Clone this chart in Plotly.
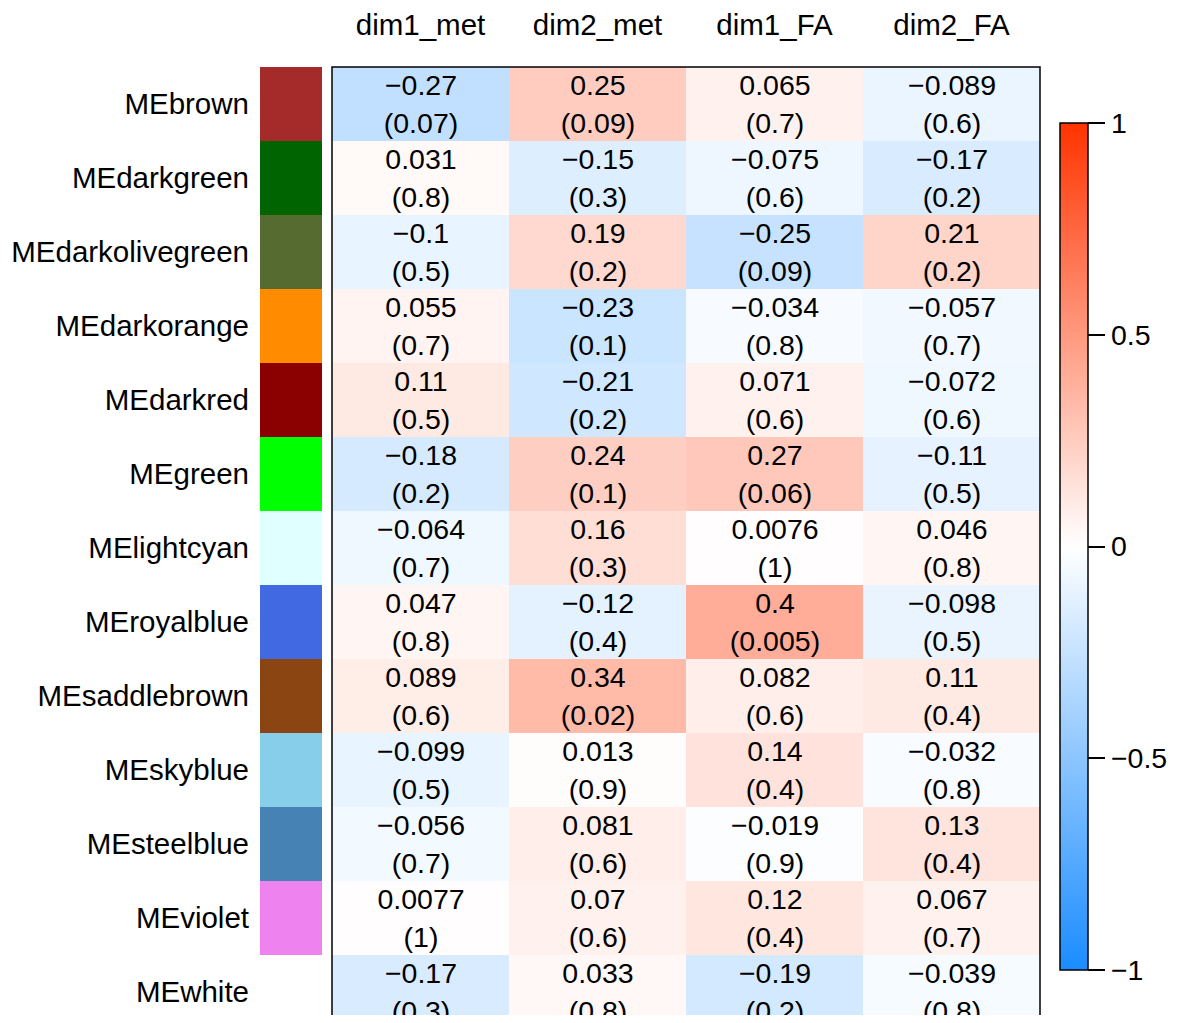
import plotly.graph_objects as go

modules = ["MEbrown", "MEdarkgreen", "MEdarkolivegreen", "MEdarkorange", "MEdarkred",
           "MEgreen", "MElightcyan", "MEroyalblue", "MEsaddlebrown", "MEskyblue",
           "MEsteelblue", "MEviolet", "MEwhite"]
module_colors = ["#A52A2A", "#006400", "#556B2F", "#FF8C00", "#8B0000", "#00FF00", "#E0FFFF",
                 "#4169E1", "#8B4513", "#87CEEB", "#4682B4", "#EE82EE", "#FFFFFF"]
traits = ["dim1_met", "dim2_met", "dim1_FA", "dim2_FA"]

cor_dim1_met = [-0.27, 0.031, -0.1, 0.055, 0.11, -0.18, -0.064, 0.047, 0.089, -0.099, -0.056, 0.0077, -0.17]
p_dim1_met = [0.07, 0.8, 0.5, 0.7, 0.5, 0.2, 0.7, 0.8, 0.6, 0.5, 0.7, 1, 0.3]
cor_dim2_met = [0.25, -0.15, 0.19, -0.23, -0.21, 0.24, 0.16, -0.12, 0.34, 0.013, 0.081, 0.07, 0.033]
p_dim2_met = [0.09, 0.3, 0.2, 0.1, 0.2, 0.1, 0.3, 0.4, 0.02, 0.9, 0.6, 0.6, 0.8]
cor_dim1_FA = [0.065, -0.075, -0.25, -0.034, 0.071, 0.27, 0.0076, 0.4, 0.082, 0.14, -0.019, 0.12, -0.19]
p_dim1_FA = [0.7, 0.6, 0.09, 0.8, 0.6, 0.06, 1, 0.005, 0.6, 0.4, 0.9, 0.4, 0.2]
cor_dim2_FA = [-0.089, -0.17, 0.21, -0.057, -0.072, -0.11, 0.046, -0.098, 0.11, -0.032, 0.13, 0.067, -0.039]
p_dim2_FA = [0.6, 0.2, 0.2, 0.7, 0.6, 0.5, 0.8, 0.5, 0.4, 0.8, 0.4, 0.7, 0.8]

colorbar_ticks = [-1, -0.5, 0, 0.5, 1]
colorbar_ticktext = ["\u22121", "\u22120.5", "0", "0.5", "1"]

cors = [cor_dim1_met, cor_dim2_met, cor_dim1_FA, cor_dim2_FA]
pvals = [p_dim1_met, p_dim2_met, p_dim1_FA, p_dim2_FA]


def fmt(v):
    return f"{v:.2g}".replace("-", "\u2212")


z = [[cors[j][i] for j in range(len(traits))] for i in range(len(modules))]
text = [[f"{fmt(cors[j][i])}<br>({fmt(pvals[j][i])})" for j in range(len(traits))]
        for i in range(len(modules))]

FONT = "Liberation Sans, Arial, sans-serif"
OFF = 8  # page body margin
W, H = 1178 - 2 * OFF, 1023 - 2 * OFF
TOP = 67 - OFF
plot_h = H - TOP
LAB = 29.5
CELL = 28.5

fig = go.Figure()
fig.add_trace(go.Heatmap(
    z=z, x=traits, y=modules, text=text, texttemplate="%{text}",
    textfont=dict(size=CELL, color="black", family=FONT),
    zmin=-1, zmax=1,
    colorscale=[[0, "#1A8CFF"], [0.5, "#FFFFFF"], [1, "#FF3300"]],
    xaxis="x", yaxis="y", hoverinfo="skip",
    colorbar=dict(
        x=(1060 - OFF) / W, xanchor="left", xpad=0,
        y=1 - ((123 + 970) / 2 - OFF - TOP) / plot_h, yanchor="middle", ypad=0,
        lenmode="pixels", len=847, thickness=28,
        outlinewidth=1.5, outlinecolor="black",
        ticks="outside", ticklen=17, tickwidth=1.5, tickcolor="black",
        tickvals=colorbar_ticks, ticktext=colorbar_ticktext,
        tickfont=dict(size=28.5, color="black", family=FONT),
    ),
))

n = len(modules)
swatch_scale = [[i / (n - 1), c] for i, c in enumerate(module_colors)]
fig.add_trace(go.Heatmap(
    z=[[i] for i in range(n)], x=["color"], y=modules,
    zmin=0, zmax=n - 1, colorscale=swatch_scale, showscale=False,
    xaxis="x2", yaxis="y", hoverinfo="skip",
))

row_h = 74
visible_rows = plot_h / row_h

fig.update_layout(
    width=W, height=H,
    margin=dict(l=0, r=0, t=TOP, b=0, autoexpand=False),
    paper_bgcolor="white", plot_bgcolor="white",
    font=dict(family=FONT, size=LAB, color="black"),
    xaxis=dict(domain=[(332 - OFF) / W, (1040 - OFF) / W], side="top", showgrid=False,
               zeroline=False, ticks="", ticklabelstandoff=25, tickfont=dict(size=LAB),
               anchor="y", automargin=False),
    xaxis2=dict(domain=[(260 - OFF) / W, (322 - OFF) / W], showticklabels=False,
                showgrid=False, zeroline=False, ticks="", anchor="y", automargin=False),
    yaxis=dict(range=[-0.5 + visible_rows, -0.5], showgrid=False, zeroline=False,
               ticks="", anchor="x2", side="left", ticklabelstandoff=10,
               tickfont=dict(size=LAB), automargin=False),
    shapes=[dict(type="rect", xref="x domain", yref="y domain", x0=0, x1=1, y0=-0.2, y1=1,
                 line=dict(color="black", width=1.5), fillcolor="rgba(0,0,0,0)")],
)

fig.write_html("out.html")
